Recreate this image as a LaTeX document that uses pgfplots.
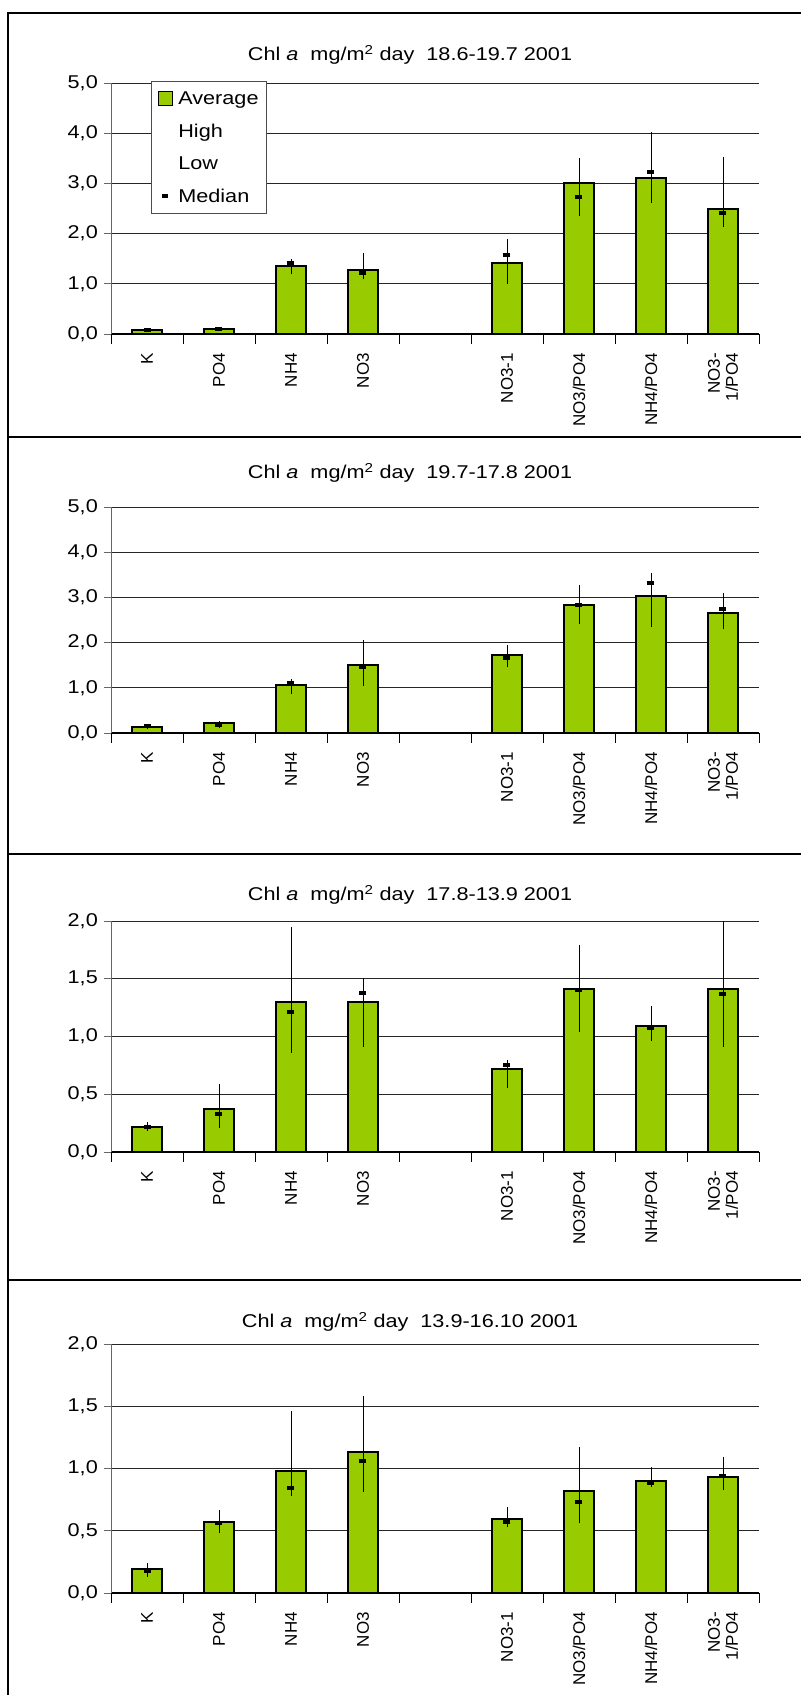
\documentclass[border=0pt]{standalone}
\usepackage{fontspec}
\setmainfont{Liberation Sans}[FakeStretch=1.17]
\newfontfamily\rotfont{Liberation Sans}
\usepackage{pgfplots}
\pgfplotsset{compat=1.18}
\usepackage{pgfplotstable}

\definecolor{barg}{RGB}{153,204,0}

% x: slot (4 is the empty gap), avg, high, low, median
\pgfplotstableread{
x avg high low med
0 0.08 0.10 0.05 0.08
1 0.10 0.12 0.08 0.10
2 1.35 1.50 1.20 1.41
3 1.27 1.62 1.09 1.22
5 1.41 1.90 1.00 1.57
6 3.01 3.50 2.35 2.73
7 3.11 4.02 2.61 3.23
8 2.49 3.53 2.13 2.41
}\tA
\pgfplotstableread{
x avg high low med
0 0.13 0.18 0.08 0.15
1 0.23 0.27 0.10 0.18
2 1.07 1.19 0.87 1.10
3 1.51 2.05 1.05 1.46
5 1.73 1.95 1.45 1.67
6 2.84 3.28 2.42 2.83
7 3.02 3.54 2.34 3.32
8 2.66 3.10 2.29 2.74
}\tB
\pgfplotstableread{
x avg high low med
0 0.22 0.26 0.18 0.22
1 0.37 0.59 0.21 0.33
2 1.30 1.95 0.86 1.21
3 1.30 1.51 0.91 1.38
5 0.715 0.80 0.55 0.75
6 1.41 1.79 1.04 1.40
7 1.09 1.26 0.96 1.07
8 1.41 2.00 0.91 1.37
}\tC
\pgfplotstableread{
x avg high low med
0 0.196 0.24 0.13 0.18
1 0.57 0.67 0.48 0.56
2 0.98 1.46 0.78 0.84
3 1.13 1.58 0.81 1.06
5 0.595 0.69 0.53 0.57
6 0.82 1.17 0.56 0.73
7 0.90 1.01 0.85 0.88
8 0.93 1.09 0.83 0.94
}\tD

\newcommand{\lab}{\fontsize{18.5}{21}\selectfont}

\pgfplotsset{
  panel/.style={
    scale only axis, width=648pt, anchor=south west,
    xmin=-0.5, xmax=8.5, ymin=0,
    axis x line*=bottom, axis y line*=left,
    axis line style={-},
    x axis line style={black, line width=1.2pt},
    y axis line style={black!60, line width=0.8pt},
    ymajorgrids, major grid style={black!85, line width=0.8pt},
    tick align=outside,
    xtick={0,1,2,3,5,6,7,8},
    xticklabels={K,PO4,NH4,NO3,NO3-1,NO3/PO4,NH4/PO4,{NO3-\\1/PO4}},
    major x tick style={draw=none},
    minor xtick={-0.5,0.5,...,8.5},
    minor x tick style={black, line width=0.8pt},
    minor tick length=10pt,
    major tick length=7pt,
    ytick style={black!60, line width=0.8pt},
    xticklabel style={rotate=90, anchor=east, align=right,
      font=\rotfont\fontsize{17}{18}\selectfont, inner sep=0pt},
    xticklabel shift=12pt,
    yticklabel style={font=\lab, inner sep=0pt},
    yticklabel shift=6pt,
    yticklabel={\pgfmathprintnumber[fixed,fixed zerofill,precision=1,use comma,assume math mode=true]{\tick}},
  },
  bars/.style={ybar, bar width=30pt, bar shift=0pt, fill=barg, draw=black, line width=2pt},
  hilo/.style={draw=none, mark=none, forget plot,
    error bars/.cd, y dir=plus, y explicit, error mark=none,
    error bar style={draw=black, line width=0.8pt, solid}},
  med/.style={only marks, mark=-, mark size=3.5pt, mark options={draw=black, line width=4pt}},
}

\begin{document}
\begin{tikzpicture}
\useasboundingbox (0pt,0pt) rectangle (801pt,1695pt);

% panel frames
\draw[line width=2.4pt] (8pt,0pt) -- (8pt,1682pt) -- (801pt,1682pt);
\draw[line width=2.4pt] (8pt,1258pt) -- (801pt,1258pt);
\draw[line width=2.4pt] (8pt,841pt) -- (801pt,841pt);
\draw[line width=2.4pt] (8pt,415pt) -- (801pt,415pt);

% titles
\node[font=\lab] at (410pt,1640pt) {Chl \textit{a}\ \ mg/m\textsuperscript{2} day\ \ 18.6-19.7 2001};
\node[font=\lab] at (410pt,1222pt) {Chl \textit{a}\ \ mg/m\textsuperscript{2} day\ \ 19.7-17.8 2001};
\node[font=\lab] at (410pt,800pt) {Chl \textit{a}\ \ mg/m\textsuperscript{2} day\ \ 17.8-13.9 2001};
\node[font=\lab] at (410pt,373pt) {Chl \textit{a}\ \ mg/m\textsuperscript{2} day\ \ 13.9-16.10 2001};

% panel 1
\begin{axis}[panel, at={(111pt,1361pt)}, height=251pt, ymax=5, ytick={0,1,...,5},
  legend cell align=left,
  legend style={at={(0.062,1.008)}, anchor=north west, draw=black!70, line width=0.8pt,
    font=\lab, row sep=14pt, inner xsep=6pt, inner ysep=8pt}]
\addplot[bars, legend image code/.code={\draw[fill=barg, draw=black, line width=1.5pt] (0pt,-7pt) rectangle (14pt,7pt); \path[draw=none, fill=none] (0pt,0pt) -- (18pt,0pt);}]
  table[x=x, y=avg] {\tA};
\addlegendentry{Average}
\addlegendimage{empty legend}\addlegendentry{High}
\addlegendimage{empty legend}\addlegendentry{Low}
\addplot[hilo] table[x=x, y=low, y error expr=\thisrow{high}-\thisrow{low}] {\tA};
\addplot[med, legend image code/.code={\draw[black, line width=4pt] (4pt,0pt) -- (10pt,0pt); \path[draw=none, fill=none] (0pt,0pt) -- (18pt,0pt);}]
  table[x=x, y=med] {\tA};
\addlegendentry{Median}
\end{axis}

% panel 2
\begin{axis}[panel, at={(111pt,962pt)}, height=226pt, ymax=5, ytick={0,1,...,5}]
\addplot[bars] table[x=x, y=avg] {\tB};
\addplot[hilo] table[x=x, y=low, y error expr=\thisrow{high}-\thisrow{low}] {\tB};
\addplot[med] table[x=x, y=med] {\tB};
\end{axis}

% panel 3
\begin{axis}[panel, at={(111pt,543pt)}, height=231pt, ymax=2, ytick={0,0.5,...,2}]
\addplot[bars] table[x=x, y=avg] {\tC};
\addplot[hilo] table[x=x, y=low, y error expr=\thisrow{high}-\thisrow{low}] {\tC};
\addplot[med] table[x=x, y=med] {\tC};
\end{axis}

% panel 4
\begin{axis}[panel, at={(111pt,102pt)}, height=249pt, ymax=2, ytick={0,0.5,...,2}]
\addplot[bars] table[x=x, y=avg] {\tD};
\addplot[hilo] table[x=x, y=low, y error expr=\thisrow{high}-\thisrow{low}] {\tD};
\addplot[med] table[x=x, y=med] {\tD};
\end{axis}
\end{tikzpicture}
\end{document}
